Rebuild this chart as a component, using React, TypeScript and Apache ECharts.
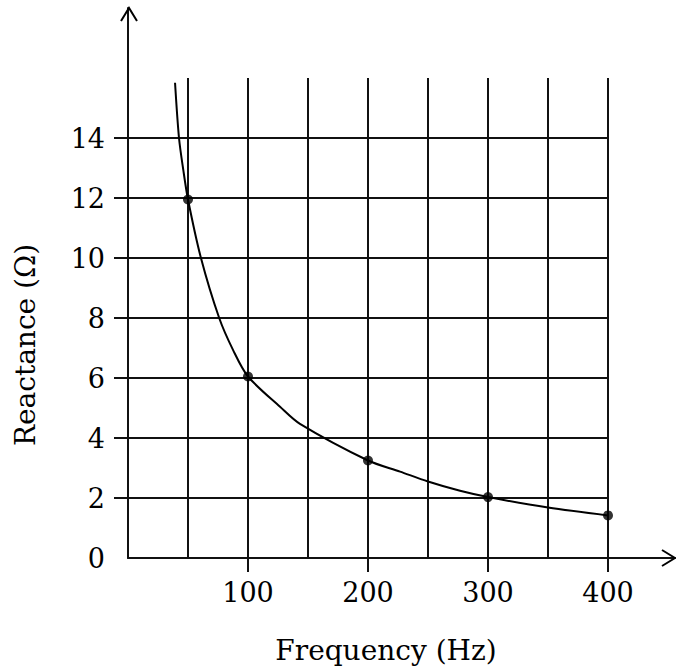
import React, { useEffect, useRef } from "react";
import * as echarts from "echarts";

// Measured points (dots)
const measuredFreq = [50, 100, 200, 300, 400];
const measuredReact = [11.95, 6.05, 3.25, 2.03, 1.42];

// Hand-drawn curve
const curveFreq = [39.2, 42.5, 46.1, 50, 60.8, 76, 87.6, 100, 126.7, 143.3, 200, 226.7, 250, 276.7, 300, 350, 400];
const curveReact = [15.84, 14, 12.93, 11.95, 10, 8, 6.93, 6.05, 5.04, 4.47, 3.25, 2.88, 2.55, 2.24, 2.03, 1.68, 1.42];

// Axis ranges and steps
const xMax = 400;
const yMax = 16;
const xGridStep = 50;
const xTickMin = 100;
const xTickStep = 100;
const yTickMin = 2;
const yTickMax = 14;
const yStep = 2;

const xName = "Frequency (Hz)";
const yName = "Reactance (Ω)";

const FONT = "'DejaVu Serif', serif";

export default function App() {
  const ref = useRef<HTMLDivElement>(null);

  useEffect(() => {
    if (!ref.current) return;
    const chart = echarts.init(ref.current, undefined, { renderer: "svg" });

    // layout
    const left = 128;
    const bottomY = 558; // pixel of y = 0
    const gW = 480; // 0..400
    const gH = 480; // 0..16
    const pxX = gW / xMax;
    const pxY = gH / yMax;
    const tickLen = 14;
    const axW = 547; // axis line extends to ~675
    const axH = 550; // axis line extends to ~8
    const top = bottomY - gH;

    const lineStyle = { color: "#111", width: 2 };
    const hidden = {
      axisLine: { show: false },
      axisTick: { show: false },
      axisLabel: { show: false },
      splitLine: { show: false },
    };
    const labelStyle = { fontFamily: FONT, fontSize: 27, color: "#000" };
    const gridBase = { containLabel: false, outerBoundsMode: "none" };

    chart.setOption({
      animation: false,
      backgroundColor: "#fff",
      grid: [
        { ...gridBase, left, top: bottomY - axH, width: axW, height: axH },
        { ...gridBase, left, top, width: gW, height: gH },
        {
          ...gridBase,
          left: left + xTickMin * pxX,
          top,
          width: (xMax - xTickMin) * pxX,
          height: gH,
        },
        {
          ...gridBase,
          left,
          top: bottomY - yTickMax * pxY,
          width: gW,
          height: (yTickMax - yTickMin) * pxY,
        },
      ],
      xAxis: [
        {
          gridIndex: 0,
          type: "value",
          min: 0,
          max: (xMax * axW) / gW,
          ...hidden,
          axisLine: { show: true, lineStyle },
        },
        {
          gridIndex: 1,
          type: "value",
          min: 0,
          max: xMax,
          interval: xGridStep,
          ...hidden,
          splitLine: { show: true, showMinLine: false, showMaxLine: true, lineStyle },
        },
        {
          gridIndex: 2,
          type: "value",
          min: xTickMin,
          max: xMax,
          interval: xTickStep,
          ...hidden,
          axisLine: { show: true, lineStyle },
          axisTick: { show: true, inside: false, length: tickLen, lineStyle },
          axisLabel: { show: true, margin: 21, ...labelStyle },
        },
        { gridIndex: 3, type: "value", min: 0, max: 1, ...hidden },
      ],
      yAxis: [
        {
          gridIndex: 0,
          type: "value",
          min: 0,
          max: (yMax * axH) / gH,
          ...hidden,
          axisLine: { show: true, lineStyle },
        },
        {
          gridIndex: 1,
          type: "value",
          min: 0,
          max: yMax,
          interval: yStep,
          ...hidden,
          axisLabel: { show: true, showMaxLabel: false, margin: 23, ...labelStyle },
          splitLine: { show: true, showMinLine: false, showMaxLine: false, lineStyle },
        },
        { gridIndex: 2, type: "value", min: 0, max: 1, ...hidden },
        {
          gridIndex: 3,
          type: "value",
          min: yTickMin,
          max: yTickMax,
          interval: yStep,
          ...hidden,
          axisLine: { show: true, lineStyle },
          axisTick: { show: true, inside: false, length: tickLen, lineStyle },
        },
      ],
      graphic: [
        {
          type: "polyline",
          shape: { points: [[121, 21], [129, 8], [137, 21]] },
          style: { stroke: "#000", lineWidth: 2, fill: "none" },
          z: 10,
        },
        {
          type: "polyline",
          shape: { points: [[662, 550], [675, 558], [662, 566]] },
          style: { stroke: "#000", lineWidth: 2, fill: "none" },
          z: 10,
        },
        {
          type: "text",
          x: 386,
          y: 650,
          style: {
            text: xName,
            font: `28px ${FONT}`,
            fill: "#000",
            textAlign: "center",
            textVerticalAlign: "middle",
          },
        },
        {
          type: "text",
          x: 25,
          y: 345,
          rotation: Math.PI / 2,
          style: {
            text: yName,
            font: `28px ${FONT}`,
            fill: "#000",
            textAlign: "center",
            textVerticalAlign: "middle",
          },
        },
      ],
      series: [
        {
          type: "line",
          xAxisIndex: 1,
          yAxisIndex: 1,
          data: curveFreq.map((f, i) => [f, curveReact[i]]),
          smooth: 0.3,
          showSymbol: false,
          clip: false,
          lineStyle: { color: "#000", width: 2 },
          z: 5,
        },
        {
          type: "scatter",
          xAxisIndex: 1,
          yAxisIndex: 1,
          data: measuredFreq.map((f, i) => [f, measuredReact[i]]),
          symbol: "circle",
          symbolSize: 10,
          itemStyle: { color: "#000" },
          z: 6,
        },
      ],
    });

    return () => chart.dispose();
  }, []);

  return (
    <div
      ref={ref}
      style={{ position: "fixed", left: 0, top: 0, width: 676, height: 670, background: "#fff" }}
    />
  );
}
